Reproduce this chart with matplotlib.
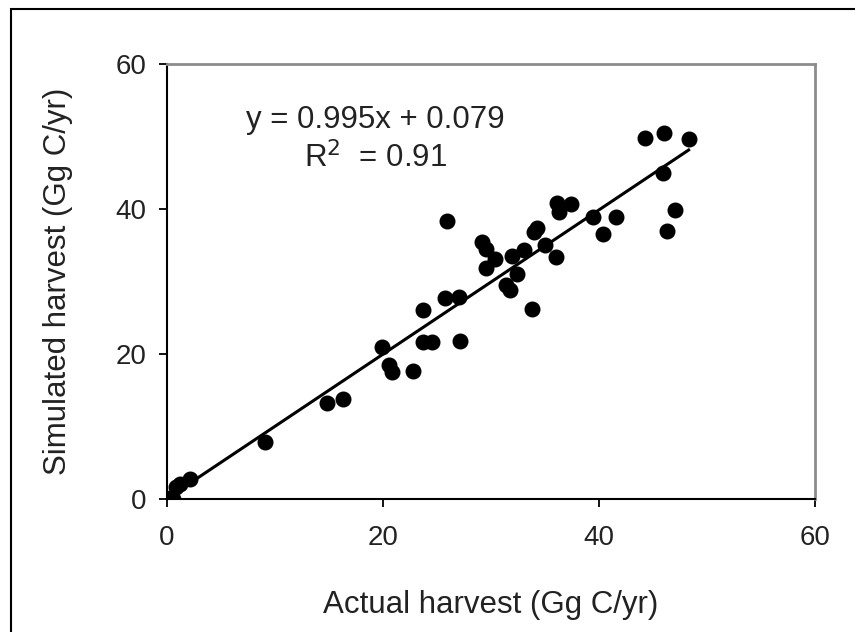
import matplotlib
matplotlib.use('Agg')
import matplotlib.pyplot as plt
from matplotlib.patches import Rectangle
import numpy as np

plt.rcParams['font.family'] = ['Liberation Sans', 'DejaVu Sans']

# Actual vs simulated harvest (Gg C/yr)
actual = [0.0, 0.3, 0.6, 0.8, 1.2, 2.1, 9.1, 14.8, 16.3,
          19.9, 20.6, 20.8, 22.8, 23.7, 24.5, 27.1, 23.7, 25.7, 27.0,
          25.9, 29.2, 29.5, 30.4, 29.5, 31.4, 31.8, 32.4, 31.9, 33.1,
          33.8, 34.3, 34.0, 35.0, 36.0, 36.1, 36.3, 37.4, 39.4, 40.4,
          41.6, 44.3, 46.0, 48.3, 45.9, 47.0, 46.3]
simulated = [0.0, 0.2, 0.0, 1.6, 2.1, 2.7, 7.8, 13.3, 13.8,
             21.0, 18.5, 17.5, 17.6, 21.6, 21.6, 21.8, 26.1, 27.7, 27.9,
             38.3, 35.4, 34.5, 33.1, 31.8, 29.5, 28.8, 31.1, 33.5, 34.4,
             26.2, 37.4, 36.8, 35.1, 33.4, 40.8, 39.6, 40.7, 38.9, 36.5,
             38.9, 49.8, 50.5, 49.7, 45.0, 39.8, 36.9]

slope = 0.995
intercept = 0.079
fit_x = [0.0, 48.3]

fig = plt.figure(figsize=(8.55, 6.32), dpi=100)
ax = fig.add_axes([0.1953, 0.2104, 0.7579, 0.6883])

ax.plot(actual, simulated, 'o', color='black', markersize=10.5, zorder=3)
fx = np.array(fit_x)
ax.plot(fx, slope * fx + intercept, color='black', linewidth=2.2, zorder=2)

ax.set_xlim(0, 60)
ax.set_ylim(0, 60)
ax.set_xticks([0, 20, 40, 60])
ax.set_yticks([0, 20, 40, 60])
ax.tick_params(direction='out', length=6, width=1.3, labelsize=20,
               colors='black', labelcolor='#222222')
ax.tick_params(axis='x', pad=13)
ax.tick_params(axis='y', pad=9)
for s in ['left', 'bottom']:
    ax.spines[s].set_linewidth(1.5)
    ax.spines[s].set_color('black')
for s in ['top', 'right']:
    ax.spines[s].set_linewidth(2)
    ax.spines[s].set_color('#8c8c8c')

ax.set_xlabel('Actual harvest (Gg C/yr)', fontsize=22.5, color='#222222', labelpad=28)
ax.set_ylabel('Simulated harvest (Gg C/yr)', fontsize=22.5, color='#222222', labelpad=30)

ax.text(19.3, 52.3, 'y = 0.995x + 0.079', fontsize=22.5, color='#222222',
        ha='center', va='center')
ax.text(19.3, 47.0, r'R$^2$  = 0.91', fontsize=22.5, color='#222222',
        ha='center', va='center')

# outer frame (only left and top edges visible in the original crop)
fig.patches.append(Rectangle((11 / 855, -0.1), 1.2, 1 - 9 / 632 + 0.1,
                             transform=fig.transFigure, fill=False,
                             edgecolor='black', linewidth=1.5))

fig.savefig('out.png', dpi=100)
